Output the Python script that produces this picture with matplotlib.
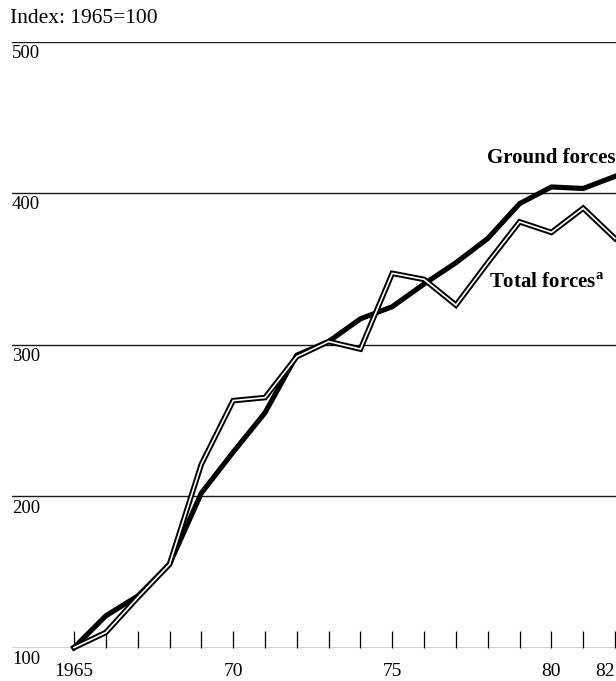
import matplotlib
matplotlib.use("Agg")
import matplotlib.pyplot as plt

plt.rcParams['font.family'] = ['Liberation Serif', 'DejaVu Serif']
plt.rcParams['mathtext.fontset'] = 'custom'
plt.rcParams['mathtext.rm'] = 'Liberation Serif'
plt.rcParams['mathtext.bf'] = 'Liberation Serif:bold'

years = list(range(1965, 1983))
ground = [100, 121, 134, 155, 202, 229, 255, 293, 302, 317, 325, 340, 354, 370, 393, 404, 403, 411]
total = [100, 110, 133, 155, 221, 263, 265, 292, 302, 297, 347, 343, 326, 354, 381, 374, 390, 370]
ytick_vals = [100, 200, 300, 400, 500]
xtick_labels = {1965: "1965", 1970: "70", 1975: "75", 1980: "80", 1982: "82"}

fig = plt.figure(figsize=(6.16, 6.81), dpi=100)
ax = fig.add_axes([12/616, 1 - 647.6/681, 1 - 12/616, (647.6 - 41.5)/681])
ax.set_xlim(1963.05, 1982.03)
ax.set_ylim(100, 500)

for s in ax.spines.values():
    s.set_visible(False)

# gridlines
for v in ytick_vals:
    ax.axhline(v, color='#1a1a1a', lw=1.0, zorder=1)

# year ticks pointing up
ax.set_yticks([])
ax.set_xticks(years)
ax.tick_params(axis='x', direction='in', length=12.5, width=0.9, color='black', pad=11,
               labelsize=14)
ax.set_xticklabels([xtick_labels.get(y, "") for y in years])
lbls = ax.get_xticklabels()
lbls[-1].set_ha('right')
lbls[-1].set_x(1982.03)

# y labels below gridlines
for v in ytick_vals:
    ax.annotate(str(v), xy=(0, v), xycoords=('axes fraction', 'data'),
                xytext=(0, -2.5), textcoords='offset points',
                ha='left', va='top', fontsize=13.5)

fig.text(10/616, 1 - 9/681, "Index: 1965=100", ha='left', va='top', fontsize=15.5)

# Ground forces: thick solid
ax.plot(years, ground, color='black', lw=3.7, solid_joinstyle='miter', zorder=3, clip_on=False)
# Total forces: double line
ax.plot(years, total, color='black', lw=4.0, solid_joinstyle='miter', zorder=4, clip_on=False)
ax.plot(years, total, color='white', lw=1.2, solid_joinstyle='miter', zorder=5, clip_on=False)

ax.text(1982.0, 420, "Ground forces", ha='right', va='baseline', fontsize=15,
        fontweight='bold')
ax.text(1978.05, 337, r"Total forces$^{\mathbf{a}}$", ha='left', va='baseline', fontsize=15,
        fontweight='bold')

fig.savefig("out.png", dpi=100)
